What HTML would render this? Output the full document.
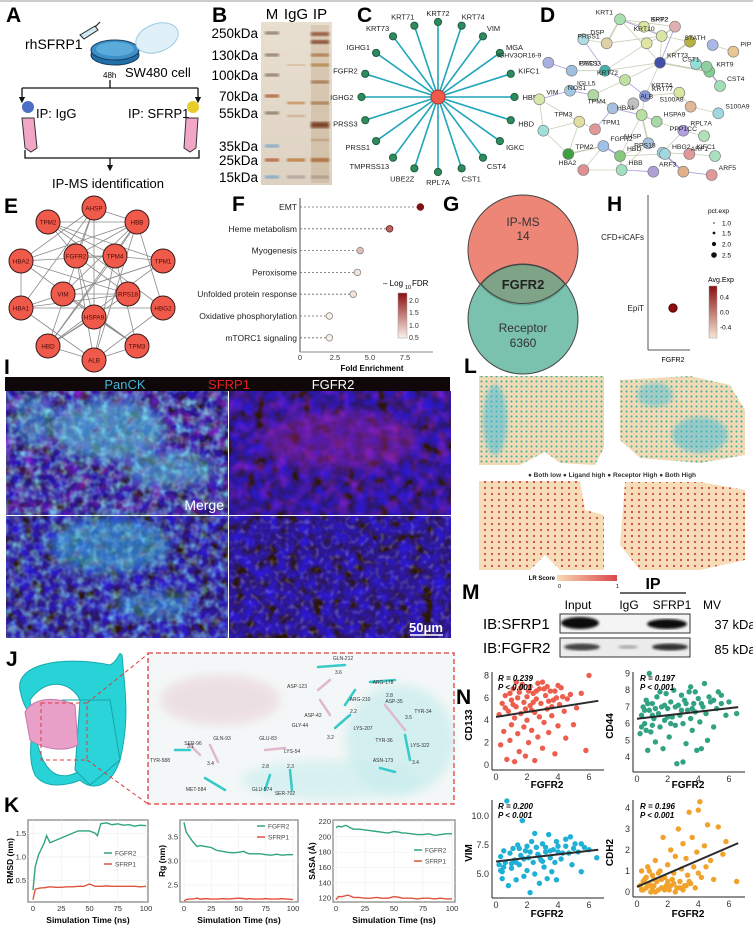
<!DOCTYPE html>
<html><head><meta charset="utf-8"><style>
html,body{margin:0;padding:0;background:#fff;}
svg{display:block;font-family:"Liberation Sans",Arial,sans-serif;}
.pl{font-weight:bold;font-size:21px;}
</style></head><body>
<svg id="fig" width="753" height="930" viewBox="0 0 753 930" xmlns="http://www.w3.org/2000/svg">
<defs>
<linearGradient id="fdrGrad" x1="0" y1="1" x2="0" y2="0"><stop offset="0" stop-color="#fbf3ea"/><stop offset="1" stop-color="#8b0f10"/></linearGradient>
<linearGradient id="avgGrad" x1="0" y1="1" x2="0" y2="0"><stop offset="0" stop-color="#f7e6d6"/><stop offset="1" stop-color="#8b0f10"/></linearGradient>
<linearGradient id="lrGrad" x1="0" y1="0" x2="1" y2="0"><stop offset="0" stop-color="#f9d9b3"/><stop offset="1" stop-color="#d9484a"/></linearGradient>
<linearGradient id="gelGrad" x1="0" y1="0" x2="0" y2="1"><stop offset="0" stop-color="#e9dfd1"/><stop offset="1" stop-color="#ddd2c2"/></linearGradient>
<filter id="blur1"><feGaussianBlur stdDeviation="1.2"/></filter>
<filter id="blur2"><feGaussianBlur stdDeviation="2.5"/></filter>
<filter id="blur4"><feGaussianBlur stdDeviation="5"/></filter>
<filter id="texBlue" x="0" y="0" width="100%" height="100%"><feTurbulence type="fractalNoise" baseFrequency="0.09" numOctaves="2" seed="3"/><feColorMatrix type="matrix" values="0 0 0 0 0.03  0 0 0 0 0.01  1.5 0 0 0 -0.4  0 0 0 0 1"/></filter>
<filter id="texCyan" x="0" y="0" width="100%" height="100%"><feTurbulence type="fractalNoise" baseFrequency="0.12" numOctaves="2" seed="7"/><feColorMatrix type="matrix" values="0 0 0 0 0.2  1.4 0 0 0 -0.2  1.3 0 0 0 0  0 0 0 2.2 -0.75"/></filter>
<filter id="texPink" x="0" y="0" width="100%" height="100%"><feTurbulence type="fractalNoise" baseFrequency="0.08" numOctaves="2" seed="11"/><feColorMatrix type="matrix" values="1.3 0 0 0 -0.2  0 0 0 0 0.02  1.2 0 0 0 0  0 0 0 1.8 -0.7"/></filter>
<filter id="texWhite" x="0" y="0" width="100%" height="100%"><feTurbulence type="fractalNoise" baseFrequency="0.2" numOctaves="1" seed="5"/><feColorMatrix type="matrix" values="1 0 0 0 0  1 0 0 0 0  1 0 0 0 0  0 0 0 2.2 -1.1"/></filter>
<pattern id="dotsTeal" width="5" height="5" patternUnits="userSpaceOnUse"><rect width="5" height="5" fill="#f7dcb8"/><circle cx="1.5" cy="1.5" r="1.1" fill="#45b49c"/><circle cx="4" cy="3.8" r="0.8" fill="#e9c9a6"/></pattern>
<pattern id="dotsRed" width="7" height="6" patternUnits="userSpaceOnUse"><rect width="7" height="6" fill="#f7dcb8"/><circle cx="2" cy="2" r="1.1" fill="#c84a44"/></pattern>
<marker id="arr" viewBox="0 0 10 10" refX="5" refY="5" markerWidth="5" markerHeight="5" orient="auto"><path d="M0,0 L10,5 L0,10 z" fill="#111"/></marker>
</defs>
<line x1="0" y1="1" x2="753" y2="1" stroke="#bbb" stroke-width="1.5"/>

<!-- Panel A -->
<g>
<text class="pl" x="6" y="22">A</text>
<text x="25" y="49" font-size="14">rhSFRP1</text>
<g><path d="M80,35 L95,26 L98,30 L84,39 Z" fill="#cfe8f4" stroke="#222" stroke-width="1"/><line x1="95" y1="27" x2="100" y2="22" stroke="#222" stroke-width="1.2"/></g>
<g><ellipse cx="115" cy="55" rx="24" ry="10" fill="#1f6fa8" stroke="#1a3d5c"/><ellipse cx="115" cy="50" rx="24" ry="10" fill="#3d8fc7" stroke="#1a3d5c"/><ellipse cx="115" cy="49" rx="19" ry="7" fill="#5aaadb"/></g>
<ellipse cx="157" cy="38" rx="22" ry="14" transform="rotate(-20 157 38)" fill="#dff0f8" stroke="#9fcbe0"/>
<text x="125" y="77" font-size="13">SW480 cell</text>
<text x="103" y="78" font-size="8">48h</text>
<path d="M110,80 L110,88 M22,88 L198,88" stroke="#111" stroke-width="1.3" fill="none"/>
<line x1="22" y1="88" x2="22" y2="100" stroke="#111" stroke-width="1.3" marker-end="url(#arr)"/>
<line x1="198" y1="88" x2="198" y2="100" stroke="#111" stroke-width="1.3" marker-end="url(#arr)"/>
<circle cx="28" cy="107" r="6" fill="#4a6fc4"/>
<circle cx="193" cy="107" r="6" fill="#e8cc2a"/>
<text x="36" y="118" font-size="13">IP: IgG</text>
<text x="128" y="118" font-size="13">IP: SFRP1</text>
<path d="M22,118 L34,118 L37,148 L31,152 L25,148 Z" fill="#f0a6c4" stroke="#333"/>
<path d="M186,118 L198,118 L196,148 L190,152 L184,148 Z" fill="#f0a6c4" stroke="#333"/>
<path d="M25,150 L25,158 L199,158 L199,150 M110,158 L110,168" stroke="#111" stroke-width="1.3" fill="none" marker-end="url(#arr)"/>
<text x="108" y="188" font-size="13" text-anchor="middle">IP-MS identification</text>
</g>

<!-- Panel B -->
<g>
<text class="pl" x="212" y="22">B</text>
<rect x="261" y="22" width="71" height="163" fill="url(#gelGrad)"/>
<text x="272" y="19" font-size="15" text-anchor="middle">M</text>
<text x="296" y="19" font-size="15" text-anchor="middle">IgG</text>
<text x="320" y="19" font-size="15" text-anchor="middle">IP</text>
<g id="gelLabels"></g><g id="gelBands"></g>
</g>

<!-- Panel C -->
<g>
<text class="pl" x="357" y="22">C</text>
<g id="cNet"></g>
</g>

<!-- Panel D -->
<g>
<text class="pl" x="540" y="22">D</text>
<g id="dNet"></g>
</g>

<!-- Panel E -->
<g>
<text class="pl" x="4" y="213">E</text>
<g id="eNet"></g>
</g>

<!-- Panel F -->
<g>
<text class="pl" x="232" y="211">F</text>
<g id="fChart"></g>
</g>

<!-- Panel G -->
<g>
<text class="pl" x="443" y="211">G</text>
<circle cx="523" cy="250" r="55" fill="#ee8678" stroke="#444"/>
<circle cx="523" cy="319" r="55" fill="#5db59c" fill-opacity="0.82" stroke="#444"/>
<path d="M481,284 A55,55 0 0 1 565,284 A55,55 0 0 1 481,284 Z" fill="#7fa386" stroke="#444"/>
<text x="523" y="226" font-size="12" text-anchor="middle" fill="#333">IP-MS</text>
<text x="523" y="240" font-size="12" text-anchor="middle" fill="#333">14</text>
<text x="523" y="289" font-size="13" font-weight="bold" text-anchor="middle" fill="#222">FGFR2</text>
<text x="523" y="332" font-size="12" text-anchor="middle" fill="#333">Receptor</text>
<text x="523" y="347" font-size="12" text-anchor="middle" fill="#333">6360</text>
</g>

<!-- Panel H -->
<g>
<text class="pl" x="607" y="211">H</text>
<g id="hChart"></g>
</g>

<!-- Panel I -->
<g>
<text class="pl" x="4" y="374">I</text>
<rect x="5" y="377" width="445" height="14" fill="#100808"/>
<text x="125" y="389" font-size="13" fill="#3fb7d8" text-anchor="middle">PanCK</text>
<text x="229" y="389" font-size="13" fill="#e02020" text-anchor="middle">SFRP1</text>
<text x="333" y="389" font-size="13" fill="#fff" text-anchor="middle">FGFR2</text>
<g>
<rect x="6" y="391" width="222" height="124" fill="#0e0a40"/>
<rect x="6" y="391" width="222" height="124" filter="url(#texBlue)" opacity="0.8"/>
<rect x="6" y="391" width="222" height="124" filter="url(#texPink)" opacity="0.7"/>
<ellipse cx="110" cy="430" rx="55" ry="30" fill="#4fc6da" opacity="0.6" filter="url(#blur4)"/>
<ellipse cx="170" cy="470" rx="45" ry="18" fill="#49bfd2" opacity="0.55" filter="url(#blur4)"/>
<ellipse cx="35" cy="420" rx="22" ry="25" fill="#3aa8c8" opacity="0.5" filter="url(#blur4)"/>
<rect x="6" y="391" width="222" height="124" filter="url(#texCyan)" opacity="0.8"/>
<text x="224" y="510" font-size="14" fill="#fff" text-anchor="end">Merge</text>
</g>
<g>
<rect x="229" y="391" width="222" height="124" fill="#0a0630"/>
<rect x="229" y="391" width="222" height="124" filter="url(#texBlue)" opacity="0.9"/>
<ellipse cx="340" cy="440" rx="80" ry="30" fill="#8a2090" opacity="0.45" filter="url(#blur4)"/>
<rect x="229" y="391" width="222" height="124" filter="url(#texPink)" opacity="0.5"/>
</g>
<g>
<rect x="6" y="516" width="222" height="122" fill="#08083e"/>
<rect x="6" y="516" width="222" height="122" filter="url(#texBlue)" opacity="0.9"/>
<ellipse cx="110" cy="545" rx="60" ry="28" fill="#30a8d0" opacity="0.6" filter="url(#blur4)"/>
<ellipse cx="155" cy="605" rx="40" ry="14" fill="#30a8d0" opacity="0.5" filter="url(#blur4)"/>
<rect x="6" y="516" width="222" height="122" filter="url(#texCyan)" opacity="0.7"/>
</g>
<g>
<rect x="229" y="516" width="222" height="122" fill="#0a0a40"/>
<rect x="229" y="516" width="222" height="122" filter="url(#texBlue)" opacity="0.9"/>
<rect x="229" y="516" width="222" height="122" filter="url(#texWhite)" opacity="0.45"/>
<text x="443" y="632" font-size="13" font-weight="bold" fill="#fff" text-anchor="end">50μm</text>
<line x1="410" y1="635" x2="443" y2="635" stroke="#fff" stroke-width="1.5"/>
</g>
</g>

<!-- Panel L -->
<g>
<text class="pl" x="464" y="373">L</text>
<path d="M479,376 L604,376 L604,448 L595,465 L560,463 L545,452 L520,465 L479,465 Z" fill="url(#dotsTeal)"/>
<ellipse cx="495" cy="420" rx="12" ry="35" fill="#3fbcd8" opacity="0.55" filter="url(#blur2)"/>
<path d="M620,380 L690,376 L730,385 L745,410 L745,455 L700,463 L640,458 L620,440 Z" fill="url(#dotsTeal)"/>
<ellipse cx="700" cy="435" rx="28" ry="18" fill="#3fbcd8" opacity="0.5" filter="url(#blur2)"/>
<ellipse cx="655" cy="395" rx="18" ry="12" fill="#3fbcd8" opacity="0.45" filter="url(#blur2)"/>
<text x="612" y="477" font-size="6.5" font-weight="bold" text-anchor="middle" fill="#333">● Both low  ● Ligand high  ● Receptor High  ● Both High</text>
<path d="M479,481 L580,481 L585,510 L604,515 L604,570 L560,570 L545,555 L530,570 L479,570 Z" fill="url(#dotsRed)"/>
<path d="M625,482 L700,482 L745,490 L745,560 L700,570 L640,570 L620,545 Z" fill="url(#dotsRed)"/>
<text x="555" y="580" font-size="6" font-weight="bold" text-anchor="end">LR Score</text>
<rect x="557" y="575" width="60" height="6" fill="url(#lrGrad)"/>
<text x="558" y="588" font-size="5.5">0</text><text x="616" y="588" font-size="5.5">1</text>
</g>

<!-- Panel M -->
<g>
<text class="pl" x="462" y="599">M</text>
<text x="653" y="589" font-size="16" font-weight="bold" text-anchor="middle">IP</text>
<line x1="620" y1="593" x2="686" y2="593" stroke="#111" stroke-width="1.2"/>
<text x="578" y="609" font-size="12" text-anchor="middle">Input</text>
<text x="629" y="609" font-size="12" text-anchor="middle">IgG</text>
<text x="672" y="609" font-size="12" text-anchor="middle">SFRP1</text>
<text x="712" y="609" font-size="12" text-anchor="middle">MV</text>
<text x="483" y="629" font-size="15">IB:SFRP1</text>
<text x="483" y="653" font-size="15">IB:FGFR2</text>
<rect x="560" y="614" width="130" height="19" fill="#f4f4f4" stroke="#333"/>
<rect x="560" y="638" width="130" height="19" fill="#ececec" stroke="#333"/>
<ellipse cx="580" cy="623" rx="19" ry="6" fill="#111" filter="url(#blur1)"/>
<ellipse cx="667" cy="624" rx="20" ry="5" fill="#111" filter="url(#blur1)"/>
<ellipse cx="582" cy="647" rx="18" ry="3.5" fill="#444" filter="url(#blur1)"/>
<ellipse cx="628" cy="647" rx="10" ry="2" fill="#aaa" filter="url(#blur1)"/>
<ellipse cx="670" cy="647" rx="18" ry="3.5" fill="#333" filter="url(#blur1)"/>
<text x="735" y="629" font-size="13" text-anchor="middle">37 kDa</text>
<text x="735" y="654" font-size="13" text-anchor="middle">85 kDa</text>
</g>

<!-- Panel J -->
<g>
<text class="pl" x="6" y="666">J</text>
<g>
<path d="M20,690 C15,665 60,655 110,665 C120,660 118,650 122,655 C125,690 130,720 120,760 C110,790 90,790 80,780 C70,785 45,790 35,775 C28,760 30,740 35,720 C25,710 22,700 20,690 Z M30,700 C35,740 40,760 50,770 C60,780 75,775 80,770 L80,700 C70,680 45,678 30,700 Z" fill="#27d3d6" fill-rule="evenodd" stroke="#17a9ae"/>
<path d="M62,700 L110,700 L120,760 L90,785 L75,770 L80,700 Z" fill="#2ad4d8" stroke="#15a5aa"/>
<path d="M25,712 C35,695 60,698 75,705 L78,745 C65,752 45,750 30,740 Z" fill="#e8a0c8" stroke="#c47aa6"/>
<rect x="41" y="703" width="46" height="57" fill="none" stroke="#e03a3a" stroke-dasharray="4,3"/>
</g>
<line x1="87" y1="703" x2="148" y2="654" stroke="#e03a3a" stroke-dasharray="4,3"/>
<line x1="87" y1="760" x2="148" y2="804" stroke="#e03a3a" stroke-dasharray="4,3"/>
<rect x="148" y="653" width="306" height="151" fill="#f4f7f7" stroke="#e03a3a" stroke-width="1.3" stroke-dasharray="5,3"/>
<ellipse cx="220" cy="700" rx="60" ry="25" fill="#ead6dc" opacity="0.7" filter="url(#blur4)"/>
<ellipse cx="400" cy="740" rx="55" ry="55" fill="#bfeaea" opacity="0.6" filter="url(#blur4)"/>
<ellipse cx="330" cy="780" rx="90" ry="20" fill="#c8eded" opacity="0.6" filter="url(#blur4)"/>
<g id="jSticks"></g>
</g>

<!-- Panel K -->
<g>
<text class="pl" x="4" y="812">K</text>
<g id="kCharts"></g>
</g>

<!-- Panel N -->
<g>
<text class="pl" x="456" y="704">N</text>
<g id="nCharts"></g>
</g>
</svg>

<script>
// ---------- DATA ----------
const gelMarkers = ["250kDa","130kDa","100kDa","70kDa","55kDa","35kDa","25kDa","15kDa"];
const gelMarkerY = [33,55,75,96,113,146,160,177];

const cNodes = ["KRT72","KRT74","VIM","MGA","KIFC1","HBB","HBD","IGKC","CST4","CST1","RPL7A","UBE2Z","TMPRSS13","PRSS1","PRSS3","IGHG2","FGFR2","IGHG1","KRT73","KRT71"];

const dLabels = ["KRT1","SPP2","KRT2","DSP","PRSS1","","KRT10","","STATH","PIP","IGHV3OR16-9","PRSS3","DSC1","KRT73","","KRT9","CST1","CST4","KRT72","IGLL5","NOS1","KRT77","KRT74","VIM","S100A8","S100A9","TPM4","ALB","HBA1","HSPA9","TPM3","TPM1","","RPL7A","PPP1CC","FGFR2","AHSP","HBD","RPS18","KIFC1","ARF1","TPM2","HBA2","HBB","","HBG2","ARF3","ARF5"];

const eNodes = ["AHSP","TPM2","HBB","HBA2","FGFR2","TPM4","TPM1","VIM","RPS18","HBA1","HSPA9","HBG2","HBD","ALB","TPM3"];

const fTerms = ["EMT","Heme metabolism","Myogenesis","Peroxisome","Unfolded protein response","Oxidative phosphorylation","mTORC1 signaling"];
const fFold = [8.6,6.4,4.3,4.1,3.8,2.1,2.1];
const fFdr = [2.3,1.6,0.9,0.6,0.6,0.5,0.5];
const fTicks = [0,2.5,5,7.5];

const hCells = ["CFD+iCAFs","EpiT"];
const hPct = [0,2.3];
const hAvg = [0,0.6];

const kTime = [0,2,5,8,10,12,15,20,25,30,35,40,45,50,55,57,60,65,70,75,80,85,90,95,100];
const rmsdFGFR2 = [0.3,0.8,1.05,1.2,1.3,1.45,1.3,1.35,1.4,1.45,1.5,1.55,1.55,1.55,1.5,1.45,1.7,1.72,1.68,1.7,1.67,1.68,1.65,1.67,1.66];
const rmsdSFRP1 = [0.1,0.32,0.34,0.35,0.35,0.36,0.37,0.36,0.36,0.37,0.37,0.38,0.38,0.43,0.38,0.38,0.38,0.39,0.38,0.38,0.38,0.38,0.38,0.37,0.38];
const rgFGFR2 = [3.8,3.6,3.5,3.4,3.35,3.3,3.32,3.3,3.28,3.22,3.2,3.18,3.17,3.18,3.2,3.17,3.15,3.15,3.15,3.13,3.12,3.14,3.12,3.13,3.13];
const rgSFRP1 = [2.17,2.2,2.21,2.21,2.22,2.23,2.21,2.22,2.21,2.21,2.22,2.21,2.22,2.23,2.22,2.21,2.22,2.21,2.21,2.22,2.21,2.21,2.22,2.21,2.2];
const sasaFGFR2 = [212,214,213,215,214,212,210,210,209,208,207,206,205,207,206,205,205,204,203,203,204,202,203,204,204];
const sasaSFRP1 = [118,122,122,123,124,123,121,121,120,120,121,120,120,122,121,120,120,120,119,120,120,119,120,119,119];
const rmsdTicks = [0.5,1.0,1.5];
const rgTicks = [2.5,3.0,3.5];
const sasaTicks = [120,140,160,180,200,220];
const timeTicks = [0,25,50,75,100];

const cd133Pts = [[0.2,4.5],[0.3,1.8],[0.4,5.5],[0.5,3.0],[0.6,6.2],[0.7,0.5],[0.8,4.8],[0.9,2.2],[1.0,5.8],[1.0,3.6],[1.1,6.8],[1.2,0.3],[1.2,4.2],[1.3,5.2],[1.4,2.8],[1.5,6.5],[1.5,1.2],[1.6,4.6],[1.7,7.2],[1.8,3.4],[1.8,5.6],[1.9,0.8],[2.0,6.1],[2.0,4.0],[2.1,2.0],[2.2,5.3],[2.2,7.0],[2.3,3.1],[2.4,6.4],[2.5,4.7],[2.5,0.4],[2.6,5.9],[2.7,2.5],[2.8,6.8],[2.8,4.3],[2.9,5.5],[3.0,1.5],[3.0,7.4],[3.1,3.8],[3.2,6.2],[3.3,5.0],[3.4,2.9],[3.5,6.6],[3.6,4.4],[3.7,5.8],[3.8,1.0],[3.9,6.0],[4.0,3.5],[4.1,5.4],[4.2,6.9],[4.4,4.8],[4.5,2.4],[4.6,5.9],[4.8,6.3],[5.0,3.6],[5.2,5.1],[5.5,6.4],[5.8,1.3],[6.0,8.0],[1.4,6.0],[2.6,6.6],[3.3,7.0],[1.9,5.0],[0.9,6.4],[2.3,4.9],[3.6,5.2],[1.1,5.4],[1.6,6.9],[2.1,6.6],[2.7,7.3],[3.1,6.8],[3.8,6.6],[4.3,6.1],[0.6,5.1],[1.3,7.4],[2.4,5.6],[3.4,5.7],[4.0,7.1]];
const cd44Pts = [[0.2,5.4],[0.3,6.5],[0.4,7.0],[0.5,6.0],[0.6,7.4],[0.7,4.4],[0.8,6.8],[0.9,5.5],[1.0,7.2],[1.1,6.3],[1.2,4.9],[1.3,7.6],[1.4,6.6],[1.5,5.8],[1.6,7.0],[1.7,4.5],[1.8,6.2],[1.9,7.8],[2.0,6.9],[2.1,5.2],[2.2,7.3],[2.3,6.4],[2.4,8.0],[2.5,5.9],[2.6,3.6],[2.7,7.1],[2.8,6.5],[2.9,7.7],[3.0,3.7],[3.0,6.0],[3.1,7.4],[3.2,4.8],[3.3,6.8],[3.4,7.9],[3.5,6.3],[3.6,5.6],[3.7,7.2],[3.8,6.7],[3.9,4.4],[4.0,7.5],[4.1,6.1],[4.2,4.5],[4.3,7.0],[4.5,6.6],[4.6,5.0],[4.8,7.3],[5.0,5.8],[5.2,6.9],[5.5,7.2],[5.8,6.5],[6.5,6.6],[3.5,8.2],[0.8,9.0],[1.5,7.9],[2.2,6.0],[3.8,7.9],[4.4,8.4],[0.5,6.8],[1.2,6.9],[1.8,7.1],[2.5,7.0],[3.2,7.2],[2.0,6.4],[2.9,6.8],[3.6,6.9],[4.2,7.2],[1.0,6.5],[0.7,7.2],[5.0,7.4],[5.5,7.7],[6.0,7.3],[4.7,7.6],[0.3,5.8],[0.6,5.6],[1.0,5.9],[5.3,7.9]];
const vimPts = [[0.2,5.8],[0.3,6.5],[0.4,5.2],[0.5,7.0],[0.6,6.0],[0.7,11.3],[0.8,4.0],[0.9,6.8],[1.0,5.5],[1.1,7.2],[1.2,6.2],[1.3,4.5],[1.4,7.5],[1.5,5.8],[1.6,6.6],[1.7,9.6],[1.8,4.8],[1.9,7.0],[2.0,5.3],[2.1,6.4],[2.2,3.4],[2.3,7.8],[2.4,6.0],[2.5,5.0],[2.6,7.3],[2.7,6.7],[2.8,4.2],[2.9,6.2],[3.0,7.6],[3.1,5.6],[3.2,6.9],[3.3,4.6],[3.4,8.4],[3.5,6.4],[3.6,5.2],[3.7,7.1],[3.8,6.0],[3.9,4.5],[4.0,7.4],[4.2,6.3],[4.3,6.8],[4.5,8.0],[4.7,6.8],[4.9,5.8],[5.1,7.6],[5.3,6.9],[5.5,5.2],[5.7,7.3],[6.5,6.4],[1.5,7.2],[2.5,8.5],[3.2,7.3],[0.5,5.6],[1.0,5.9],[1.8,6.3],[2.2,6.9],[2.8,6.5],[3.5,7.0],[4.0,6.9],[1.3,6.0],[2.0,7.4],[3.0,6.1],[4.5,7.4],[5.0,7.2],[5.5,7.6],[6.0,7.1],[0.3,5.3],[0.4,4.6],[4.8,8.2],[3.9,7.8]];
const cdh2Pts = [[0.2,0.3],[0.3,1.0],[0.4,0.1],[0.5,0.6],[0.6,0.2],[0.7,1.2],[0.8,0.4],[0.9,0.0],[1.0,0.8],[1.1,0.3],[1.2,1.5],[1.3,0.5],[1.4,0.1],[1.5,1.0],[1.6,0.2],[1.7,2.6],[1.8,0.7],[1.9,0.3],[2.0,1.3],[2.1,0.1],[2.2,2.0],[2.3,0.6],[2.4,0.9],[2.5,1.7],[2.6,0.2],[2.7,3.0],[2.8,0.5],[2.9,1.1],[3.0,2.3],[3.1,0.3],[3.2,1.6],[3.3,0.8],[3.4,3.8],[3.5,0.4],[3.6,2.6],[3.7,1.2],[3.8,0.2],[3.9,1.9],[4.0,3.9],[4.1,4.3],[4.2,0.7],[4.4,2.2],[4.6,3.2],[4.8,1.5],[5.0,0.6],[5.3,3.1],[5.6,1.8],[5.8,2.4],[6.5,0.5],[1.2,0.0],[2.5,0.0],[3.0,0.1],[0.6,0.7],[0.4,0.5],[1.0,0.2],[1.6,0.6],[2.2,0.3],[2.8,0.2],[3.4,0.5],[1.4,0.9],[2.0,0.5],[0.8,1.0],[0.3,0.1],[0.7,0.3],[1.1,0.6],[1.8,0.1],[2.4,0.4],[3.2,0.3],[4.0,0.9],[4.5,1.2]];
const nXTicks = [0,2,4,6];
const cd133Ticks = [0,2,4,6,8];
const cd44Ticks = [4,5,6,7,8,9];
const vimTicks = [5.0,7.5,10.0];
const cdh2Ticks = [0,1,2,3,4];
const nStats = [["R = 0.239","P < 0.001"],["R = 0.197","P < 0.001"],["R = 0.200","P < 0.001"],["R = 0.196","P < 0.001"]];

// ---------- HELPERS ----------
const NS = "http://www.w3.org/2000/svg";
function mk(tag, attrs, parent){ const e=document.createElementNS(NS,tag); for(const k in attrs) e.setAttribute(k,attrs[k]); parent.appendChild(e); return e; }
function txt(x,y,s,size,parent,extra){ const t=mk("text",Object.assign({x:x,y:y,"font-size":size},extra||{}),parent); t.textContent=s; return t; }
function lerpColor(a,b,t){ const pa=[parseInt(a.substr(1,2),16),parseInt(a.substr(3,2),16),parseInt(a.substr(5,2),16)]; const pb=[parseInt(b.substr(1,2),16),parseInt(b.substr(3,2),16),parseInt(b.substr(5,2),16)]; return "rgb("+pa.map((v,i)=>Math.round(v+(pb[i]-v)*t)).join(",")+")"; }

// ---------- B gel ----------
(function(){
  const gl=document.getElementById("gelLabels"), gb=document.getElementById("gelBands");
  gelMarkers.forEach((m,i)=>{
    const t=txt(258,gelMarkerY[i]+5,m,13.5,gl,{"text-anchor":"end"});
    
    
    const col = i>=5 && i!==6 ? "#7aa6c8" : (i===3||i===6 ? "#b0562a" : "#8a7460");
    const b=mk("rect",{x:265,y:gelMarkerY[i]-1.5,width:14,height:3,fill:col,filter:"url(#blur1)"},gb);
    
    
  });
  const igg=[[65,"#c9a070",1.5],[103,"#c08040",2.5],[116,"#c8a080",2],[160,"#b8702a",3],[177,"#a89c98",3]];
  igg.forEach(b=>{ const r=mk("rect",{x:287,y:b[0]-b[2]/2,width:18,height:b[2],fill:b[1],filter:"url(#blur1)"},gb);   });
  const ip=[[34,"#8a4a30",4],[42,"#7a3a28",4],[55,"#a8703a",3],[65,"#b08040",3],[82,"#9a6a40",3],[103,"#a07040",3],[125,"#6a2a18",6],[140,"#b89070",2],[160,"#a8602a",4],[177,"#a89c98",3]];
  ip.forEach(b=>{ const r=mk("rect",{x:311,y:b[0]-b[2]/2,width:18,height:b[2],fill:b[1],filter:"url(#blur1)"},gb);   });
  const lane=mk("rect",{x:311,y:25,width:18,height:158,fill:"#b08a60",opacity:0.25},gb);
  
  
})();

// ---------- C network ----------
(function(){
  const g=document.getElementById("cNet"); const cx=438, cy=97, R=75;
  cNodes.forEach((n,i)=>{
    const a=-Math.PI/2 + i*2*Math.PI/cNodes.length;
    const x=cx+R*Math.cos(a)*1.02, y=cy+R*Math.sin(a)*1.0;
    const l=mk("line",{x1:cx,y1:cy,x2:x,y2:y,stroke:"#1ea6b8","stroke-width":1.6},g);
    
    
  });
  cNodes.forEach((n,i)=>{
    const a=-Math.PI/2 + i*2*Math.PI/cNodes.length;
    const x=cx+R*Math.cos(a)*1.02, y=cy+R*Math.sin(a);
    const c=mk("circle",{cx:x,cy:y,r:3.6,fill:"#2e8b5e",stroke:"#1f5f40"},g);
    
    
    const lx=x+Math.cos(a)*10, ly=y+Math.sin(a)*10+3;
    let anchor = Math.abs(Math.cos(a))<0.3 ? "middle" : (Math.cos(a)>0 ? "start":"end");
    let ty = ly; if(Math.abs(Math.cos(a))<0.5 && Math.sin(a)<0) ty = y-6;
    if(Math.abs(Math.cos(a))<0.5 && Math.sin(a)>0) ty = y+13;
    const t=txt(Math.abs(Math.cos(a))<0.5?x:lx - (Math.cos(a)>0?2:-2), ty, n, 7.5, g, {"text-anchor":anchor,fill:"#222"});
    
    
  });
  const hub=mk("circle",{cx:cx,cy:cy,r:7,fill:"#f05a4a",stroke:"#a33"},g);
  
  
})();

// ---------- D STRING network ----------
(function(){
  const g=document.getElementById("dNet");
  const pos=[[840,58],[912,80],[1005,80],[730,118],[800,130],[920,130],[965,108],[1050,125],[1118,135],[1180,155],[625,188],[695,212],[795,212],[960,188],[1068,192],[1108,215],[1100,200],[1140,258],[855,240],[690,272],[760,285],[915,288],[1018,278],[598,298],[1052,320],[1135,340],[818,325],[880,310],[905,345],[950,365],[718,365],[765,388],[610,392],[1030,392],[1092,408],[790,438],[925,430],[840,468],[968,458],[1048,462],[1125,468],[685,462],[730,510],[845,510],[940,515],[975,462],[1030,515],[1115,525]];
  const cols=["#a8e0b0","#d8e6a0","#e0b0b0","#b0dce6","#e0d0a8","#e0e6a0","#d8e6a8","#b8b040","#a8b8e8","#e6c890","#a8b0e0","#a0c0e0","#40b0a8","#4050a8","#90e0d8","#80d090","#90d0a0","#a0e0b8","#c0e0a0","#a0c8e0","#b0d8a0","#8898d8","#d8e8a0","#d8e8a8","#e0b898","#a0d8e0","#a8c0e0","#c0c0c0","#b8e0a0","#a8d8a8","#e0e0a0","#e09898","#a0e0d8","#b0a0e0","#b0e0b8","#a0c0e8","#a8c0e0","#88c880","#a0d8e8","#e09898","#a8e0c0","#40a040","#e09090","#a0e0c0","#b0a0d8","#a0d8e0","#e0b088","#e09898"];
  const edges=[[0,1],[0,2],[0,4],[0,6],[1,6],[2,6],[4,6],[6,13],[13,18],[13,21],[18,21],[12,18],[12,13],[0,13],[2,13],[6,7],[7,13],[13,15],[15,17],[16,17],[21,22],[18,20],[20,26],[26,28],[28,29],[28,36],[36,37],[37,43],[35,37],[35,42],[42,43],[41,35],[30,31],[30,32],[31,26],[23,32],[23,30],[28,37],[36,43],[29,33],[33,38],[38,39],[39,40],[46,47],[38,46],[44,43],[45,37],[10,11],[11,12],[3,4],[3,12],[24,25],[22,24],[27,28],[19,20],[23,19],[8,9],[14,15],[5,6],[5,12],[21,28],[30,41],[32,41],[34,33]];
  edges.forEach(e=>{
    const a=pos[e[0]], b=pos[e[1]];
    const l=mk("line",{x1:340+a[0]/3,y1:a[1]/3,x2:340+b[0]/3,y2:b[1]/3,stroke:(e[0]+e[1])%3===0?"#8a7ad0":"#b8c0a0","stroke-width":(e[0]+e[1])%4===0?1.6:0.8,opacity:0.75},g);
    
    
  });
  pos.forEach((p,i)=>{
    const x=340+p[0]/3, y=p[1]/3;
    const c=mk("circle",{cx:x,cy:y,r:5.5,fill:cols[i%cols.length],stroke:"#777","stroke-width":0.6},g);
    
    
    if(dLabels[i]){
      const t=txt(x+(i%2?7:-7),y-5,dLabels[i],6.8,g,{"text-anchor":i%2?"start":"end",fill:"#222"});
      
      
    }
  });
})();

// ---------- E network ----------
(function(){
  const g=document.getElementById("eNet");
  const pos=[[94,208],[48,222],[137,222],[21,261],[76,256],[115,256],[163,261],[63,294],[128,294],[21,308],[94,317],[163,308],[48,346],[94,360],[137,346]];
  const edges=[[0,2],[0,4],[0,3],[0,9],[0,12],[1,4],[1,5],[1,2],[1,6],[2,3],[2,4],[2,5],[2,7],[2,12],[2,13],[2,11],[3,8],[3,9],[3,14],[4,5],[4,8],[4,13],[4,10],[5,6],[5,12],[5,14],[5,13],[6,7],[6,9],[7,8],[7,14],[8,9],[8,12],[9,11],[9,13],[10,12],[10,14],[11,13],[12,13],[13,14],[0,10],[1,11],[3,5],[6,12]];
  edges.forEach(e=>{
    const a=pos[e[0]], b=pos[e[1]];
    const l=mk("line",{x1:a[0],y1:a[1],x2:b[0],y2:b[1],stroke:"#8a8a8a","stroke-width":0.8},g);
    
    
  });
  eNodes.forEach((n,i)=>{
    const p=pos[i];
    const c=mk("circle",{cx:p[0],cy:p[1],r:12,fill:"#ef5a4a",stroke:"#3a1a1a","stroke-width":1},g);
    
    
    const t=txt(p[0],p[1]+2.5,n,6.3,g,{"text-anchor":"middle",fill:"#4a0a0a"});
    
    
  });
})();

// ---------- F lollipop ----------
(function(){
  const g=document.getElementById("fChart");
  const X=v=>300+v*14, rowY=i=>207+i*21.8;
  const ax=mk("line",{x1:300,y1:198,x2:300,y2:352,stroke:"#888","stroke-width":1.5},g);
  
  
  const xa=mk("line",{x1:300,y1:352,x2:433,y2:352,stroke:"#888","stroke-width":1},g);
  
  
  fTicks.forEach(t=>{
    const tl=txt(X(t),360,t===0?"0":t.toFixed(1),7.5,g,{"text-anchor":"middle",fill:"#333"});
    
    
  });
  const xt=txt(372,371,"Fold Enrichment",8,g,{"text-anchor":"middle","font-weight":"bold"});
  
  
  fTerms.forEach((term,i)=>{
    const y=rowY(i);
    const lbl=txt(297,y+3,term,8.5,g,{"text-anchor":"end",fill:"#222"});
    
    
    const st=mk("line",{x1:300,y1:y,x2:X(fFold[i]),y2:y,stroke:"#666","stroke-dasharray":"2,2","stroke-width":0.8},g);
    
    
    const t=Math.max(0,Math.min(1,(fFdr[i]-0.5)/1.8));
    const d=mk("circle",{cx:X(fFold[i]),cy:y,r:3.3,fill:lerpColor("#f8f0e6","#8b0f10",t),stroke:t<0.3?"#888":"#6a1a1a","stroke-width":0.8},g);
    
    
  });
  const lt=txt(383,286,"– Log",8,g,{});
  
  
  txt(405,289,"10",5.5,g,{}); txt(412,286,"FDR",8,g,{});
  const cb=mk("rect",{x:398,y:293,width:9,height:45,fill:"url(#fdrGrad)",stroke:"#999","stroke-width":0.5},g);
  
  
  [["2.0",300],["1.5",312],["1.0",325],["0.5",337]].forEach(a=>txt(409,a[1]+3,a[0],7,g,{fill:"#333"}));
})();

// ---------- H dot plot ----------
(function(){
  const g=document.getElementById("hChart");
  const rowY=[237,308];
  const ax=mk("line",{x1:648,y1:195,x2:648,y2:350,stroke:"#555"},g);
  
  
  const xa=mk("line",{x1:648,y1:350,x2:690,y2:350,stroke:"#555"},g);
  
  
  hCells.forEach((c,i)=>{
    const t=txt(644,rowY[i]+3,c,8,g,{"text-anchor":"end",fill:"#222"});
    
    
    if(hPct[i]>0){
      const d=mk("circle",{cx:673,cy:rowY[i],r:hPct[i]*1.8,fill:lerpColor("#f7e6d6","#8b0f10",Math.min(1,(hAvg[i]+0.6)/1.2)),stroke:"#500"},g);
      
      
    }
  });
  const xl=txt(673,362,"FGFR2",7,g,{"text-anchor":"middle"});
  
  
  txt(708,213,"pct.exp",6.5,g,{});
  [[1.0,223],[1.5,233],[2.0,244],[2.5,255]].forEach(a=>{ mk("circle",{cx:714,cy:a[1],r:a[0]*1.4-0.7,fill:"#111"},g); txt(722,a[1]+2.5,a[0].toFixed(1),6.5,g,{}); });
  txt(708,282,"Avg.Exp",7,g,{});
  const cb=mk("rect",{x:709,y:286,width:8,height:52,fill:"url(#avgGrad)",stroke:"#999","stroke-width":0.5},g);
  
  
  [["0.4",297],["0.0",312],["-0.4",327]].forEach(a=>txt(720,a[1]+2.5,a[0],6.5,g,{}));
})();

// ---------- J sticks ----------
(function(){
  const g=document.getElementById("jSticks");
  const res=[["GLN-212",343,660],["ARG-178",383,684],["ASP-123",297,688],["ARG-210",360,701],["ASP-35",394,703],["TYR-34",423,713],["ASP-42",313,717],["GLY-44",300,727],["LYS-207",363,730],["TYR-36",384,742],["LYS-322",420,747],["SER-96",193,745],["GLN-93",222,740],["GLU-83",268,740],["LYS-54",292,753],["ASN-173",383,762],["TYR-588",160,762],["MET-584",196,791],["GLU-574",262,791],["SER-702",285,795]];
  const sticks=[[318,667,345,665,"#38c9c9"],[330,680,318,690,"#e0b8d0"],[345,705,355,690,"#38c9c9"],[320,700,330,715,"#e0b8d0"],[335,728,350,715,"#38c9c9"],[370,682,395,680,"#38c9c9"],[385,705,405,730,"#e0b8d0"],[405,735,410,760,"#38c9c9"],[175,750,190,750,"#38c9c9"],[190,745,200,755,"#e0b8d0"],[210,745,218,762,"#e0b8d0"],[205,778,225,790,"#38c9c9"],[265,750,285,748,"#e0b8d0"],[270,775,265,790,"#38c9c9"],[290,770,292,790,"#38c9c9"],[380,768,395,772,"#38c9c9"]];
  sticks.forEach(s=>{ const l=mk("line",{x1:s[0],y1:s[1],x2:s[2],y2:s[3],stroke:s[4],"stroke-width":2.5,"stroke-linecap":"round"},g);   });
  res.forEach(r=>{ const t=txt(r[1],r[2],r[0],5,g,{"text-anchor":"middle",fill:"#333"});   });
  [["3.6",335,674],["2.2",350,713],["2.8",386,697],["3.5",405,719],["3.2",327,739],["3.1",187,748],["3.4",207,765],["2.8",262,768],["2.3",287,768],["3.4",412,764]].forEach(d=>{ const t=txt(d[1],d[2],d[0],5,g,{fill:"#333"});   });
})();

// ---------- K line charts ----------
(function(){
  const g=document.getElementById("kCharts");
  const charts=[
    {x0:28,x1:148,y0:820,y1:902,tx0:33,tx1:146,ymin:0.05,ymax:1.78,ticks:rmsdTicks,a:rmsdFGFR2,b:rmsdSFRP1,title:"RMSD (nm)",fmt:v=>v.toFixed(1),leg:[122,853]},
    {x0:180,x1:298,y0:820,y1:902,tx0:184,tx1:293,ymin:2.15,ymax:3.85,ticks:rgTicks,a:rgFGFR2,b:rgSFRP1,title:"Rg (nm)",fmt:v=>v.toFixed(1),leg:[275,826]},
    {x0:333,x1:455,y0:820,y1:902,tx0:336,tx1:452,ymin:115,ymax:222,ticks:sasaTicks,a:sasaFGFR2,b:sasaSFRP1,title:"SASA (Å)",fmt:v=>String(v),leg:[432,850]}
  ];
  charts.forEach((c,ci)=>{
    const X=t=>c.tx0+(c.tx1-c.tx0)*t/100;
    const Y=v=>c.y1-(v-c.ymin)/(c.ymax-c.ymin)*(c.y1-c.y0);
    const box=mk("rect",{x:c.x0,y:c.y0,width:c.x1-c.x0,height:c.y1-c.y0,fill:"#fff",stroke:"#888","stroke-width":1.3},g);
    
    
    timeTicks.forEach(t=>{
      mk("line",{x1:X(t),y1:c.y0,x2:X(t),y2:c.y1,stroke:"#eee","stroke-width":0.6},g);
      const tl=txt(X(t),911,String(t),7.5,g,{"text-anchor":"middle",fill:"#333"});
      
      
    });
    c.ticks.forEach(v=>{
      mk("line",{x1:c.x0,y1:Y(v),x2:c.x1,y2:Y(v),stroke:"#eee","stroke-width":0.6},g);
      const tl=txt(c.x0-2,Y(v)+2.5,c.fmt(v),7.5,g,{"text-anchor":"end",fill:"#333"});
      
      
    });
    [[c.a,"#2fa37f","FGFR2"],[c.b,"#e0533f","SFRP1"]].forEach((s,si)=>{
      const p=mk("polyline",{points:kTime.map((t,i)=>X(t)+","+Y(s[0][i])).join(" "),fill:"none",stroke:s[1],"stroke-width":1.4},g);
      
      
      mk("line",{x1:c.leg[0]-18,y1:c.leg[1]+si*11,x2:c.leg[0]-10,y2:c.leg[1]+si*11,stroke:s[1],"stroke-width":1.5},g);
      txt(c.leg[0]-7,c.leg[1]+si*11+2.5,s[2],6.5,g,{fill:"#444"});
    });
    const xt=txt((c.x0+c.x1)/2,923,"Simulation Time (ns)",8.5,g,{"text-anchor":"middle","font-weight":"bold"});
    
    
    const yt=txt(0,0,c.title,8.5,g,{"text-anchor":"middle","font-weight":"bold",transform:"translate("+(c.x0-(ci==2?18:15))+","+((c.y0+c.y1)/2)+") rotate(-90)"});
    
    
  });
})();

// ---------- N scatter plots ----------
(function(){
  const g=document.getElementById("nCharts");
  const panels=[
    {pts:cd133Pts,col:"#ee5e4e",ox:496,ax:492,xs:15.5,yb:765,yv0:0,ys:11.2,bottom:770,top:672,ticks:cd133Ticks,title:"CD133",fmt:v=>String(v),stat:nStats[0],sx:498,sy:681,xlab:788,ytx:472},
    {pts:cd44Pts,col:"#31a382",ox:637,ax:633,xs:15.33,yb:757,yv0:4,ys:16.7,bottom:772,top:672,ticks:cd44Ticks,title:"CD44",fmt:v=>String(v),stat:nStats[1],sx:640,sy:681,xlab:788,ytx:613},
    {pts:vimPts,col:"#1fb0d6",ox:496,ax:492,xs:15.5,yb:874,yv0:5,ys:11.6,bottom:898,top:800,ticks:vimTicks,title:"VIM",fmt:v=>v.toFixed(1),stat:nStats[2],sx:498,sy:809,xlab:917,ytx:472},
    {pts:cdh2Pts,col:"#f0a22a",ox:637,ax:633,xs:15.33,yb:892,yv0:0,ys:21,bottom:897,top:800,ticks:cdh2Ticks,title:"CDH2",fmt:v=>String(v),stat:nStats[3],sx:640,sy:809,xlab:917,ytx:613}
  ];
  panels.forEach(p=>{
    const X=v=>p.ox+v*p.xs, Y=v=>p.yb-(v-p.yv0)*p.ys;
    p.pts.forEach(q=>{
      const c=mk("circle",{cx:X(q[0]),cy:Y(q[1]),r:2.7,fill:p.col},g);
      
      
    });
    const n=p.pts.length; let mx=0,my=0; p.pts.forEach(q=>{mx+=q[0];my+=q[1];}); mx/=n; my/=n;
    let sxy=0,sxx=0; p.pts.forEach(q=>{sxy+=(q[0]-mx)*(q[1]-my);sxx+=(q[0]-mx)*(q[0]-mx);});
    const b=sxy/sxx, a=my-b*mx;
    const fl=mk("line",{x1:X(0),y1:Y(a),x2:X(6.6),y2:Y(a+b*6.6),stroke:"#2a2a2a","stroke-width":2},g);
    
    
    const ya=mk("line",{x1:p.ax,y1:p.top,x2:p.ax,y2:p.bottom,stroke:"#222"},g);
    
    
    const xa=mk("line",{x1:p.ax,y1:p.bottom,x2:p.ax+112,y2:p.bottom,stroke:"#222"},g);
    
    
    nXTicks.forEach(t=>{
      const tl=txt(X(t),p.bottom+10,String(t),9,g,{"text-anchor":"middle",fill:"#333"});
      
      
    });
    p.ticks.forEach(t=>{
      const tl=txt(p.ax-3,Y(t)+3,p.fmt(t),9,g,{"text-anchor":"end",fill:"#333"});
      
      
    });
    const xt=txt(p.ax+55,p.xlab,"FGFR2",10,g,{"text-anchor":"middle","font-weight":"bold"});
    
    
    const yt=txt(0,0,p.title,10,g,{"text-anchor":"middle","font-weight":"bold",transform:"translate("+p.ytx+","+((p.top+p.bottom)/2+4)+") rotate(-90)"});
    
    
    const s1=txt(p.sx,p.sy,p.stat[0],8,g,{"font-weight":"bold","font-style":"italic"});
    
    
    const s2=txt(p.sx,p.sy+9,p.stat[1],8,g,{"font-weight":"bold","font-style":"italic"});
    
    
  });
})();
</script>
</body></html>
